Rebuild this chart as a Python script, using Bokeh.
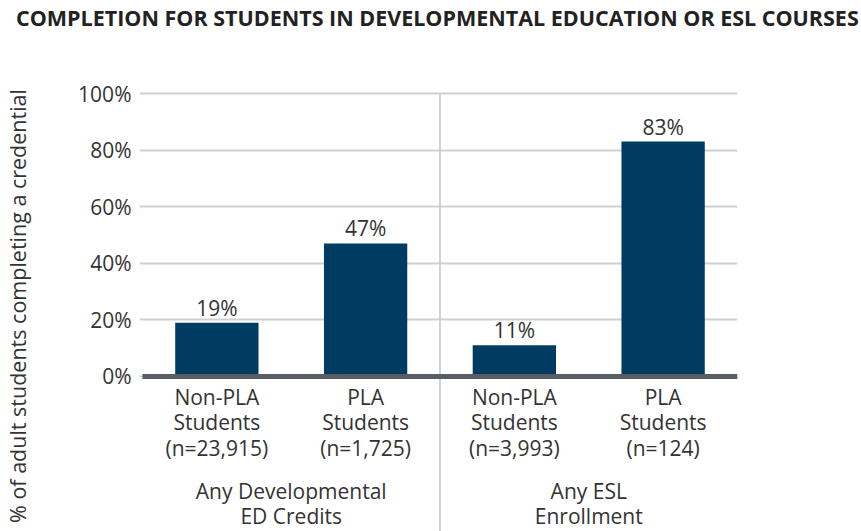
import numpy as np
from bokeh.plotting import figure
from bokeh.layouts import column
from bokeh.models import Range1d, FixedTicker, Div
from bokeh.embed import file_html
from bokeh.resources import INLINE
from bokeh.core.properties import value

# ---- data ----
title_text = "COMPLETION FOR STUDENTS IN DEVELOPMENTAL EDUCATION OR ESL COURSES"
y_label = "% of adult students completing a credential"
cat_line1 = ["Non-PLA", "PLA", "Non-PLA", "PLA"]
cat_line2 = ["Students", "Students", "Students", "Students"]
cat_line3 = ["(n=23,915)", "(n=1,725)", "(n=3,993)", "(n=124)"]
completion = [19, 47, 11, 83]
value_labels = ["19%", "47%", "11%", "83%"]
group_line1 = ["Any Developmental", "Any ESL"]
group_line2 = ["ED Credits", "Enrollment"]
y_ticks = [0, 20, 40, 60, 80, 100]

FONT = "Open Sans"
TXT = "#333333"
NAVY = "#003b63"
FS = "21px"

n = len(completion)
xs = list(np.arange(n) + 0.5)
group_x = [1.0, 3.0]
Y0, Y1 = -54.8, 104.6
TH = 36  # title strip height

# ---- title ----
title_div = Div(text=title_text, width=861, height=TH, margin=0,
                styles={"font-family": "'Open Sans'", "font-size": "21.5px",
                        "font-weight": "bold", "color": "#222222",
                        "line-height": f"{TH}px", "white-space": "nowrap",
                        "padding-left": "16px", "box-sizing": "border-box"})

# ---- chart ----
p = figure(width=861, height=531 - TH, output_backend="svg", toolbar_location=None,
           x_range=Range1d(-0.02, n), y_range=Range1d(Y0, Y1),
           x_axis_location=None, min_border_left=138, min_border_right=124,
           min_border_top=80 - TH, min_border_bottom=0, margin=0)
p.outline_line_color = None
p.background_fill_color = "white"
p.border_fill_color = "white"

p.xgrid.visible = False
p.ygrid.ticker = FixedTicker(ticks=y_ticks)
p.ygrid.grid_line_color = "#cfcfcf"
p.ygrid.grid_line_width = 2

ax = p.yaxis[0]
ax.ticker = FixedTicker(ticks=y_ticks)
ax.major_label_overrides = {v: f"{v}%" for v in y_ticks}
ax.axis_line_color = None
ax.major_tick_line_color = None
ax.minor_tick_line_color = None
ax.major_tick_out = 0
ax.major_tick_in = 0
ax.minor_tick_out = 0
ax.major_label_standoff = 8
ax.major_label_text_font = FONT
ax.major_label_text_font_size = FS
ax.major_label_text_color = TXT
ax.axis_label = y_label
ax.axis_label_text_font = FONT
ax.axis_label_text_font_size = "21.5px"
ax.axis_label_text_font_style = "normal"
ax.axis_label_text_color = TXT
ax.axis_label_standoff = 43

# separator
p.segment(x0=[2], y0=[100], x1=[2], y1=[Y0], line_color="#c4c4c4", line_width=1.5)

# bars
p.vbar(x=xs, top=completion, bottom=0, width=0.56, fill_color=NAVY, line_color=None)

# baseline axis
p.segment(x0=[0], y0=[0], x1=[n], y1=[0], line_color="#585d63", line_width=5)

# value labels
p.text(x=xs, y=completion, text=value_labels, text_align="center",
       text_baseline="alphabetic", y_offset=-15, text_font=value(FONT),
       text_font_size=FS, text_color=TXT)

# category labels
for lines, off in [(cat_line1, 21), (cat_line2, 46), (cat_line3, 72)]:
    p.text(x=xs, y=[0] * n, text=lines, text_align="center", text_baseline="alphabetic",
           y_offset=off, text_font=value(FONT), text_font_size=FS, text_color=TXT)

for lines, off in [(group_line1, 115), (group_line2, 140)]:
    p.text(x=group_x, y=[0, 0], text=lines, text_align="center", text_baseline="alphabetic",
           y_offset=off, text_font=value(FONT), text_font_size=FS, text_color=TXT)

layout = column(title_div, p, spacing=0)
open("out.html", "w").write(file_html(layout, INLINE))
